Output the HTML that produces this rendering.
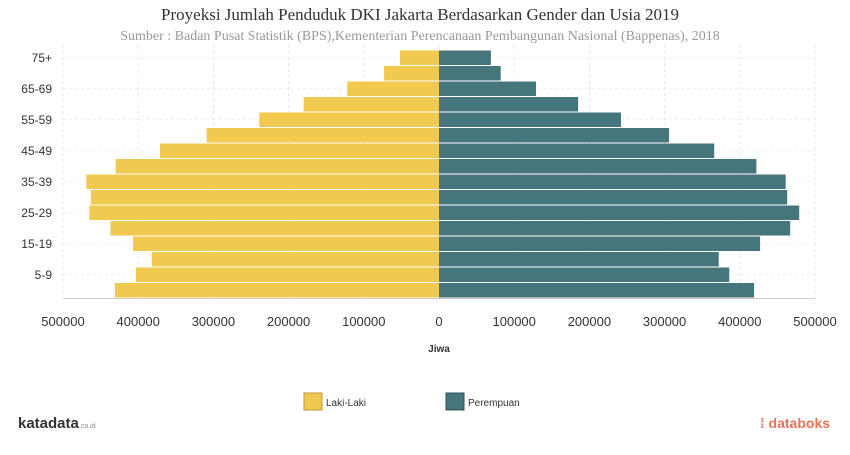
<!DOCTYPE html>
<html><head><meta charset="utf-8"><style>
body{margin:0;background:#fff;width:850px;height:450px;overflow:hidden;font-family:"Liberation Sans",sans-serif}
</style></head><body>
<svg width="850" height="450">
<text x="420" y="20" text-anchor="middle" font-family="Liberation Serif" font-size="17" fill="#333">Proyeksi Jumlah Penduduk DKI Jakarta Berdasarkan Gender dan Usia 2019</text>
<text x="420" y="40" text-anchor="middle" font-family="Liberation Serif" font-size="14" fill="#999">Sumber : Badan Pusat Statistik (BPS),Kementerian Perencanaan Pembangunan Nasional (Bappenas), 2018</text>
<g id="grid"></g><g id="bars"></g><g id="axes"></g>
<text x="439" y="352" text-anchor="middle" font-size="10" font-weight="bold" fill="#333">Jiwa</text>
<rect x="304" y="393" width="18" height="17" fill="#f2c94f" stroke="#b89a3a"/>
<text x="326" y="406" font-size="10" fill="#333">Laki-Laki</text>
<rect x="446" y="393" width="18" height="17" fill="#44767b" stroke="#2d5256"/>
<text x="468" y="406" font-size="10" fill="#333">Perempuan</text>
<text x="18" y="428" font-size="15" font-weight="bold" fill="#333">katadata<tspan font-size="7" font-weight="normal" fill="#888">.co.id</tspan></text>
<text x="760" y="428" font-size="14" font-weight="bold" fill="#e8735a">⁞ databoks</text>
</svg>
<script>
const ageGroups=["0-4","5-9","10-14","15-19","20-24","25-29","30-34","35-39","40-44","45-49","50-54","55-59","60-64","65-69","70-74","75+"];
const maleValues=[431000,403000,382000,407000,437000,465000,463000,469000,430000,371000,309000,239000,180000,122000,73000,52000];
const femaleValues=[419000,386000,372000,427000,467000,479000,463000,461000,422000,366000,306000,242000,185000,129000,82000,69000];
const tickValues=[-500000,-400000,-300000,-200000,-100000,0,100000,200000,300000,400000,500000];
const NS="http://www.w3.org/2000/svg";
const x0=439,half=376,plotTop=50,plotBottom=298;
const xs=v=>x0+v/500000*half;
const rowH=(plotBottom-plotTop)/ageGroups.length;
const ys=i=>plotBottom-(i+1)*rowH;
function mk(t,a,p){const e=document.createElementNS(NS,t);for(const k in a)e.setAttribute(k,a[k]);p.appendChild(e);return e;}
const grid=document.getElementById('grid'),bars=document.getElementById('bars'),axes=document.getElementById('axes');
tickValues.forEach(v=>{
const l=mk('line',{x1:xs(v),x2:xs(v),y1:plotTop-5,y2:plotBottom,stroke:'#e6e6e6','stroke-dasharray':'3,3'},grid);


const t=mk('text',{x:xs(v),y:326,'text-anchor':'middle','font-size':'13',fill:'#333'},axes);
t.textContent=String(Math.abs(v));


});
ageGroups.forEach((g,i)=>{
const y=ys(i);
if(i%2==1){
const hl=mk('line',{x1:63,x2:815,y1:y+rowH/2,y2:y+rowH/2,stroke:'#eeeeee','stroke-dasharray':'3,3'},grid);


const t=mk('text',{x:52,y:y+rowH/2+4,'text-anchor':'end','font-size':'12',fill:'#333'},axes);
t.textContent=g;


}
const m=mk('rect',{x:xs(-maleValues[i]),y:y+0.5,width:xs(0)-xs(-maleValues[i]),height:rowH-1,fill:'#f2c94f'},bars);


const f=mk('rect',{x:xs(0),y:y+0.5,width:xs(femaleValues[i])-xs(0),height:rowH-1,fill:'#44767b'},bars);


});
const ax=mk('line',{x1:63,x2:815,y1:plotBottom+0.5,y2:plotBottom+0.5,stroke:'#ccc'},axes);


</script>
</body></html>
